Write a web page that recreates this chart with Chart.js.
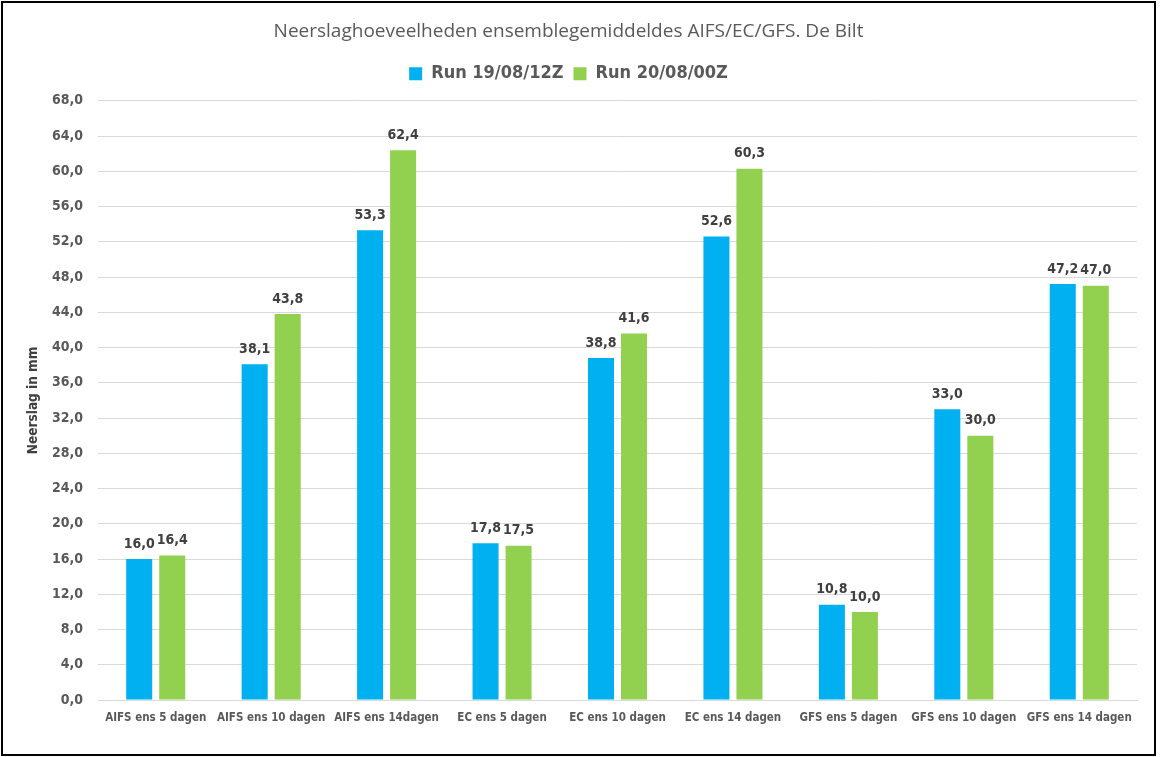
<!DOCTYPE html>
<html>
<head>
<meta charset="utf-8">
<script src="https://cdn.jsdelivr.net/npm/chart.js@4.4.1/dist/chart.umd.min.js"></script>
<style>
  html, body { margin: 0; padding: 0; background: #ffffff; }
  #wrap { position: relative; width: 1160px; height: 757px; }
  #frame { position: absolute; left: 1px; top: 1px; width: 1151px; height: 751px; border: 2px solid #000; pointer-events: none; }
  canvas { display: block; }
</style>
</head>
<body>
<div id="wrap">
  <canvas id="c" width="1160" height="757"></canvas>
  <div id="frame"></div>
</div>
<script>
const categories = ["AIFS ens 5 dagen", "AIFS ens 10 dagen", "AIFS ens 14dagen", "EC ens 5 dagen", "EC ens 10 dagen", "EC ens 14 dagen", "GFS ens 5 dagen", "GFS ens 10 dagen", "GFS ens 14 dagen"];
const seriesNames = ["Run 19/08/12Z", "Run 20/08/00Z"];
const run19_12Z = [16.0, 38.1, 53.3, 17.8, 38.8, 52.6, 10.8, 33.0, 47.2];
const run20_00Z = [16.4, 43.8, 62.4, 17.5, 41.6, 60.3, 10.0, 30.0, 47.0];
const yMin = 0, yMax = 68, yStep = 4;
const titleText = "Neerslaghoeveelheden ensemblegemiddeldes AIFS/EC/GFS. De Bilt";
const yTitleText = "Neerslag in mm";

const NARROW = "'Liberation Sans Narrow', 'DejaVu Sans Condensed', 'Roboto', sans-serif";
const fmt = v => Number(v).toFixed(1).replace('.', ',');

const legendSpacer = {
  id: 'legendSpacer',
  beforeInit(chart) {
    const lg = chart.legend;
    if (!lg) return;
    const orig = lg.fit;
    lg.fit = function () { orig.call(this); this.height += 8; };
  }
};

const dataLabels = {
  id: 'dataLabels',
  afterDatasetsDraw(chart) {
    const ctx = chart.ctx;
    ctx.save();
    ctx.font = "bold 14px " + NARROW;
    ctx.fillStyle = '#404040';
    ctx.textAlign = 'center';
    ctx.textBaseline = 'middle';
    chart.data.datasets.forEach((ds, i) => {
      const meta = chart.getDatasetMeta(i);
      meta.data.forEach((el, j) => {
        ctx.fillText(fmt(ds.data[j]), el.x, el.y - 15);
      });
    });
    ctx.restore();
  }
};

new Chart(document.getElementById('c'), {
  type: 'bar',
  data: {
    labels: categories,
    datasets: [
      { label: seriesNames[0], data: run19_12Z, backgroundColor: '#00B0F0', categoryPercentage: 0.572, barPercentage: 0.788 },
      { label: seriesNames[1], data: run20_00Z, backgroundColor: '#92D050', categoryPercentage: 0.572, barPercentage: 0.788 }
    ]
  },
  options: {
    responsive: false,
    animation: false,
    devicePixelRatio: 1,
    layout: { padding: { left: 0, right: 23, top: 0, bottom: 0 } },
    plugins: {
      title: {
        display: true,
        text: titleText,
        color: '#595959',
        font: { family: "'Open Sans', sans-serif", size: 19, weight: 'normal' },
        padding: { top: 20, bottom: 12 }
      },
      legend: {
        display: true,
        position: 'top',
        labels: {
          color: '#595959',
          boxWidth: 13,
          boxHeight: 13,
          padding: 10,
          font: { family: NARROW, size: 18, weight: 'bold' }
        }
      },
      tooltip: { enabled: false }
    },
    scales: {
      x: {
        grid: { display: false, drawTicks: false },
        border: { display: true, color: '#d9d9d9' },
        ticks: {
          color: '#595959',
          padding: 11,
          maxRotation: 0,
          autoSkip: false,
          font: { family: NARROW, size: 11.5, weight: 'bold' }
        },
        afterFit(scale) { scale.height = 57; }
      },
      y: {
        min: yMin, max: yMax,
        grid: { color: '#d9d9d9', drawTicks: false },
        border: { display: false },
        ticks: {
          stepSize: yStep,
          color: '#595959',
          padding: 15,
          font: { family: NARROW, size: 14, weight: 'bold' },
          callback: v => fmt(v)
        },
        title: {
          display: true,
          text: yTitleText,
          color: '#404040',
          font: { family: NARROW, size: 13.5, weight: 'bold' },
          padding: { top: 25, bottom: 0 }
        },
        afterFit(scale) { scale.width = 98; }
      }
    }
  },
  plugins: [legendSpacer, dataLabels]
});
</script>
</body>
</html>
